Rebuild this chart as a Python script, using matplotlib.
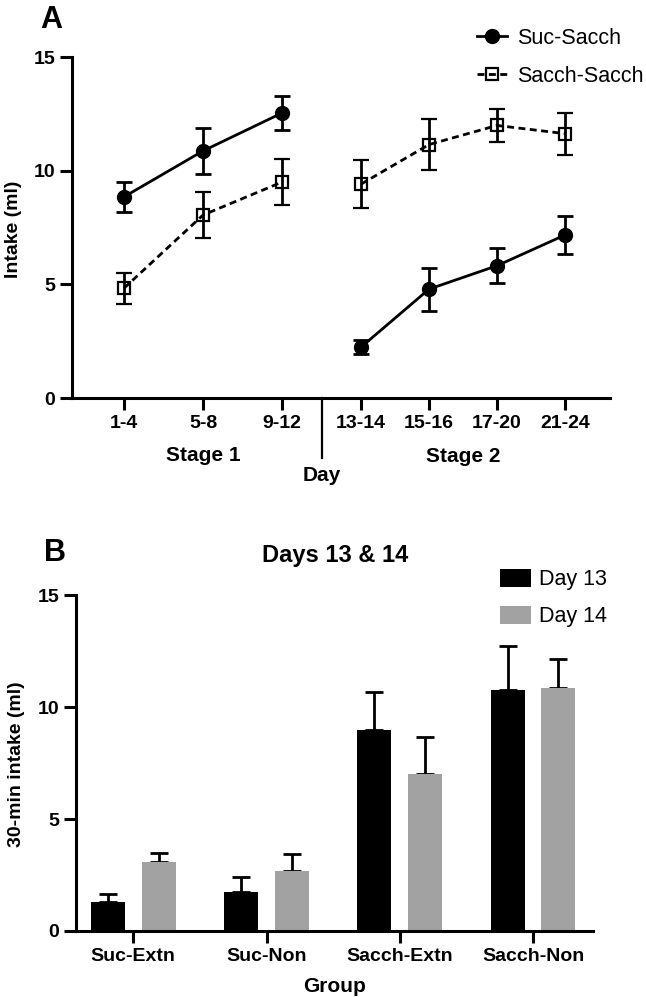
import numpy as np
import matplotlib
matplotlib.use("Agg")
import matplotlib.pyplot as plt
import matplotlib.transforms as mtransforms
from matplotlib.lines import Line2D

plt.rcParams["font.family"] = ["Liberation Sans", "DejaVu Sans"]

# ---- panel A data (mean +/- SEM) ----
stage1_days = ["1-4", "5-8", "9-12"]
stage2_days = ["13-14", "15-16", "17-20", "21-24"]
suc_sacch_mean = [8.85, 10.87, 12.54, 2.24, 4.79, 5.82, 7.17]
suc_sacch_sem = [0.65, 1.00, 0.73, 0.30, 0.95, 0.76, 0.83]
sacch_sacch_mean = [4.83, 8.05, 9.50, 9.41, 11.15, 11.99, 11.63]
sacch_sacch_sem = [0.68, 1.02, 1.00, 1.07, 1.12, 0.73, 0.92]

# ---- panel B data ----
groups = ["Suc-Extn", "Suc-Non", "Sacch-Extn", "Sacch-Non"]
day13_mean = [1.31, 1.76, 8.97, 10.78]
day13_sem = [0.36, 0.64, 1.68, 1.93]
day14_mean = [3.07, 2.68, 7.00, 10.84]
day14_sem = [0.43, 0.75, 1.68, 1.30]

SPINE = 2.2
TICK_FS = 14
LAB_FS = 15
LEG_FS = 15.5
fig = plt.figure(figsize=(6.46, 9.97), dpi=100)


def style_axes(ax):
    for s in ("top", "right"):
        ax.spines[s].set_visible(False)
    for s in ("left", "bottom"):
        ax.spines[s].set_linewidth(SPINE)
    ax.tick_params(length=8.5, width=SPINE, labelsize=TICK_FS, pad=3.5)
    for lab in ax.get_xticklabels() + ax.get_yticklabels():
        lab.set_fontweight("bold")


# ================= A =================
axA = fig.add_axes([0.1115, 0.6008, 0.8328, 0.342])
n1 = len(stage1_days)
x1 = np.arange(1, n1 + 1, dtype=float)
x2 = x1[-1] + 1 + np.arange(len(stage2_days)) * 0.86
xs = np.concatenate([x1, x2])
divider = x1[-1] + 0.506

circle_kw = dict(marker="o", ms=10, mfc="black", ls="-")
square_kw = dict(marker="s", ms=8.5, mfc="none", mew=1.6, ls=(0, (2.5, 1.6)))
series = [(suc_sacch_mean, suc_sacch_sem, circle_kw),
          (sacch_sacch_mean, sacch_sacch_sem, square_kw)]
for mean, sem, kw in series:
    mean = np.asarray(mean)
    sem = np.asarray(sem)
    for sl in (slice(0, n1), slice(n1, None)):
        axA.errorbar(xs[sl], mean[sl], yerr=sem[sl], color="black",
                     lw=2.0, elinewidth=2.0, capsize=5.5, capthick=2.0,
                     mec="black", clip_on=False, zorder=3, **kw)

axA.set_xlim(0.342, 7.15)
axA.set_ylim(0, 15)
axA.set_yticks([0, 5, 10, 15])
axA.set_xticks(xs)
axA.set_xticklabels(stage1_days + stage2_days)
style_axes(axA)
fig.text(13.5 / 646, 1 - 229 / 997, "Intake (ml)", rotation=90,
         ha="center", va="center", fontsize=14, fontweight="bold")

trA = mtransforms.blended_transform_factory(axA.transData, axA.transAxes)
axA.plot([divider, divider], [0, -0.176], transform=trA, color="black",
         lw=1.6, clip_on=False)
axA.text(np.mean(x1), -0.170, "Stage 1", transform=trA, ha="center",
         va="center", fontsize=LAB_FS, fontweight="bold")
axA.text(np.mean(x2), -0.172, "Stage 2", transform=trA, ha="center",
         va="center", fontsize=LAB_FS, fontweight="bold")
axA.text(divider, -0.226, "Day", transform=trA, ha="center", va="center",
         fontsize=LAB_FS, fontweight="bold")

leg_handles = [Line2D([], [], color="black", lw=2.0, **circle_kw),
               Line2D([], [], color="black", lw=2.0, **square_kw)]
fig.legend(leg_handles, ["Suc-Sacch", "Sacch-Sacch"], loc="upper left",
           bbox_to_anchor=(477 / 646, 1 - 28 / 997), frameon=False,
           fontsize=LEG_FS, handlelength=1.4, handletextpad=0.45,
           labelspacing=0.78, borderpad=0, borderaxespad=0)

fig.text(40 / 646, 1 - 5 / 997, "A", fontsize=22, fontweight="bold",
         ha="left", va="top")

# ================= B =================
axB = fig.add_axes([0.1176, 0.0662, 0.8003, 0.337])
xg = np.arange(len(groups))
bw = 0.255
off = 0.19
axB.bar(xg - off, day13_mean, width=bw, color="black", label="Day 13",
        zorder=2)
axB.bar(xg + off, day14_mean, width=bw, color="#a2a2a2", label="Day 14",
        zorder=2)
for xx, mean, sem in ((xg - off, day13_mean, day13_sem),
                      (xg + off, day14_mean, day14_sem)):
    axB.errorbar(xx, mean, yerr=[np.zeros(len(groups)), sem], fmt="none",
                 ecolor="black", elinewidth=2.0, capsize=6.5, capthick=2.0,
                 zorder=1)
axB.set_xlim(-0.43, 3.45)
axB.set_ylim(0, 15)
axB.set_yticks([0, 5, 10, 15])
axB.set_xticks(xg)
axB.set_xticklabels(groups)
style_axes(axB)
fig.text(17 / 646, 1 - 764 / 997, "30-min intake (ml)", rotation=90,
         ha="center", va="center", fontsize=14, fontweight="bold")
axB.text(0.5, -0.165, "Group", transform=axB.transAxes, ha="center",
         va="center", fontsize=LAB_FS, fontweight="bold")
axB.legend(loc="upper left", bbox_to_anchor=(500 / 646, 1 - 569 / 997),
           bbox_transform=fig.transFigure, frameon=False, fontsize=LEG_FS,
           handlelength=1.45, handleheight=0.9, handletextpad=0.35,
           labelspacing=0.72, borderpad=0, borderaxespad=0)

fig.text(335 / 646, 1 - 555 / 997, "Days 13 & 14", fontsize=17,
         fontweight="bold", ha="center", va="center")
fig.text(44 / 646, 1 - 538 / 997, "B", fontsize=22, fontweight="bold",
         ha="left", va="top")

fig.savefig("out.png", dpi=100)
